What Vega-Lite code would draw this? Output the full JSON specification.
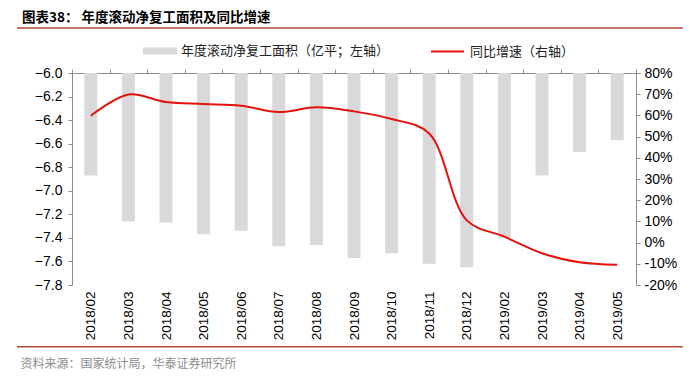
{
  "$schema": "https://vega.github.io/schema/vega-lite/v6.json",
  "width": 564,
  "height": 212,
  "autosize": "none",
  "padding": {"left": 72, "top": 73, "right": 64, "bottom": 93},
  "background": "white",
  "config": {
    "view": {"stroke": null},
    "axis": {"labelFont": "Liberation Sans", "labelColor": "#000000", "domainColor": "#8c8c8c", "tickColor": "#8c8c8c", "grid": false},
    "legend": {"labelFont": "Noto Sans CJK SC", "labelFontSize": 13, "labelColor": "#222222", "labelLimit": 400}
  },
  "title": {
    "text": "图表38：  年度滚动净复工面积及同比增速",
    "font": "Noto Sans CJK SC",
    "fontSize": 13.5,
    "fontWeight": "bold",
    "color": "#000000",
    "anchor": "start",
    "frame": "group",
    "dx": -50,
    "offset": 3
  },
  "datasets": {
    "main": [
      {"month": "2018/02", "area": -6.87, "growth": 59.8},
      {"month": "2018/03", "area": -7.26, "growth": 69.9},
      {"month": "2018/04", "area": -7.27, "growth": 66.3},
      {"month": "2018/05", "area": -7.37, "growth": 65.4},
      {"month": "2018/06", "area": -7.34, "growth": 64.6},
      {"month": "2018/07", "area": -7.47, "growth": 61.6},
      {"month": "2018/08", "area": -7.46, "growth": 63.8},
      {"month": "2018/09", "area": -7.57, "growth": 61.9},
      {"month": "2018/10", "area": -7.53, "growth": 58.3},
      {"month": "2018/11", "area": -7.62, "growth": 51.5},
      {"month": "2018/12", "area": -7.65, "growth": 10.5},
      {"month": "2019/02", "area": -7.40, "growth": 2.8},
      {"month": "2019/03", "area": -6.87, "growth": -5.0},
      {"month": "2019/04", "area": -6.67, "growth": -9.3},
      {"month": "2019/05", "area": -6.57, "growth": -10.5}
    ],
    "rules": [
      {"pos": 1.212, "x0": -0.0975, "x1": 1.083},
      {"pos": -0.291, "x0": -0.0975, "x1": 1.083}
    ]
  },
  "layer": [
    {
      "data": {"name": "main"},
      "mark": {"type": "bar", "size": 13, "color": "#d9d9d9"},
      "encoding": {
        "x": {
          "field": "month", "type": "ordinal", "sort": null,
          "scale": {"paddingInner": 0, "paddingOuter": 0},
          "axis": {"orient": "top", "labels": false, "ticks": true, "tickSize": 4, "tickBand": "extent", "domain": true, "title": null}
        },
        "y": {
          "field": "area", "type": "quantitative",
          "scale": {"domain": [-7.8, -6.0], "zero": false, "nice": false},
          "axis": {"orient": "left", "values": [-6.0, -6.2, -6.4, -6.6, -6.8, -7.0, -7.2, -7.4, -7.6, -7.8], "format": ".1f", "labelFontSize": 14, "tickSize": 4, "labelPadding": 6, "title": null}
        },
        "y2": {"datum": -6.0},
        "color": {
          "datum": "年度滚动净复工面积（亿平；左轴）",
          "scale": {"range": ["#d9d9d9"]},
          "legend": {"orient": "none", "legendX": 71, "legendY": -39, "symbolType": "M-1,-0.206H1V0.206H-1Z", "symbolSize": 1156, "symbolStrokeWidth": 0, "labelOffset": 4, "title": null}
        }
      }
    },
    {
      "data": {"name": "main"},
      "mark": {"type": "line", "interpolate": "catmull-rom", "strokeWidth": 2, "color": "#e3120b"},
      "encoding": {
        "x": {
          "field": "month", "type": "ordinal", "sort": null,
          "scale": {"paddingInner": 0, "paddingOuter": 0},
          "axis": {"orient": "bottom", "labelAngle": 270, "labelAlign": "right", "labelBaseline": "middle", "labelFontSize": 13.5, "domain": false, "ticks": false, "labelPadding": 6,
                   "title": "资料来源：国家统计局，华泰证券研究所", "titleFont": "Noto Sans CJK SC", "titleFontSize": 12, "titleFontWeight": "normal", "titleColor": "#8c8c8c", "titleX": -52, "titleY": 78, "titleAlign": "left", "titleBaseline": "middle", "titleAnchor": "start"}
        },
        "y": {
          "field": "growth", "type": "quantitative",
          "scale": {"domain": [-20, 80], "nice": false, "zero": false},
          "axis": {"orient": "right", "values": [-20, -10, 0, 10, 20, 30, 40, 50, 60, 70, 80], "labelExpr": "datum.value + '%'", "labelFontSize": 14, "tickSize": 4, "labelPadding": 4, "title": null}
        },
        "stroke": {
          "datum": "同比增速（右轴）",
          "scale": {"range": ["#e3120b"]},
          "legend": {"orient": "none", "legendX": 358, "legendY": -39, "symbolType": "stroke", "symbolSize": 1089, "symbolStrokeWidth": 2, "labelOffset": 5, "title": null}
        }
      }
    },
    {
      "data": {"name": "rules"},
      "mark": {"type": "rule", "color": "#b2463c", "strokeWidth": 1.5},
      "encoding": {
        "x": {"field": "x0", "type": "quantitative", "scale": {"domain": [0, 1], "nice": false, "zero": false}, "axis": null},
        "x2": {"field": "x1"},
        "y": {"field": "pos", "type": "quantitative", "scale": {"domain": [0, 1], "nice": false, "zero": false}, "axis": null}
      }
    }
  ],
  "resolve": {"scale": {"x": "independent", "y": "independent", "color": "independent", "stroke": "independent"}}
}
